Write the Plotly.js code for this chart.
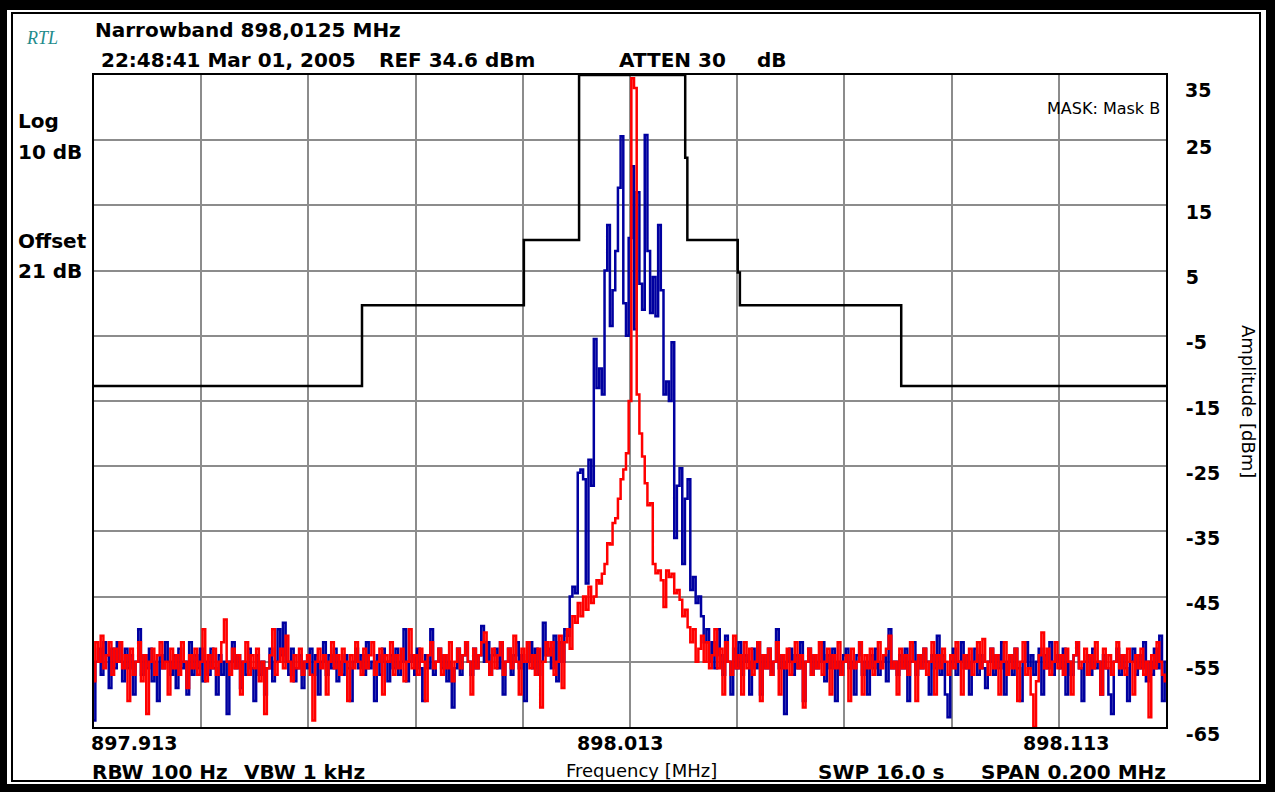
<!DOCTYPE html>
<html>
<head>
<meta charset="utf-8">
<script src="https://cdn.plot.ly/plotly-3.0.1.min.js"></script>
<style>
  html, body { margin: 0; padding: 0; background: #ffffff; }
  #chart { width: 1275px; height: 792px; }
</style>
</head>
<body>
<div id="chart"></div>
<script>
// ---------------- DATA ----------------
const FREQ_START = 897.9125;   // MHz (left edge of span)
const FREQ_STOP = 898.1125;    // MHz (right edge of span)
const FREQ_STEP = 0.0005;      // sweep point spacing, MHz

const xTickLabels = ["897.913", "898.013", "898.113"];
const yTickValues = [25, 15, 5, -5, -15, -25, -35, -45, -55, -65];
const yTopLabel = "35";

// Limit mask (black)
const maskFreq = [897.9125, 897.9625, 897.9625, 897.9927, 897.9927, 898.0030, 898.0030, 898.0228, 898.0228,
                  898.0232, 898.0232, 898.0326, 898.0326, 898.0330, 898.0330, 898.0631, 898.0631, 898.1125];
const maskLevel = [-12.7, -12.7, -0.3, -0.3, 9.7, 9.7, 35, 35, 22.3,
                   22.3, 9.7, 9.7, 4.7, 4.7, -0.3, -0.3, -12.7, -12.7];

// Blue trace (modulated signal), dBm
const blueLeft = [
 -64,-55,-53,-57,-52,-54,-59,-53,-56,-52,
 -55,-58,-53,-56,-54,-60,-55,-50,-57,-54,
 -56,-53,-58,-55,-61,-54,-56,-52,-55,-57,
 -54,-59,-53,-56,-55,-60,-52,-57,-54,-56,
 -53,-58,-55,-57,-53,-56,-60,-54,-57,-55,
 -63,-55,-52,-56,-54,-59,-55,-57,-53,-56,
 -61,-54,-57,-55,-60,-56,-53,-58,-55,-50,
 -54,-49,-55,-57,-53,-58,-56,-54,-59,-55,
 -56,-53,-57,-54,-60,-55,-52,-57,-54,-56,
 -53,-58,-55,-57,-54,-56,-61,-55,-53,-56,
 -54,-57,-52,-56,-55,-61,-54,-57,-53,-55,
 -58,-54,-56,-53,-57,-55,-50,-58,-55,-54,
 -57,-53,-56,-61,-54,-56,-50,-57,-55,-53,
 -56,-54,-58,-55,-62,-56,-53,-57,-54,-52,
 -55,-57,-53,-56,-54,-49.5,-55,-52,-57,-54,
 -53,-56,-52,-60,-55,-53,-57,-54,-52,-56,
 -54,-61,-55,-52,-56,-53,-57,-55,-49,-54
];
const blueCenter = [
 -53,-56,-51,-58,-52,-55,-50,-51,-45,-43.5,
 -44.5,-26,-25.5,-27,-43,-24,-28,-5.5,-13,-10,
 -14,5,12,-3.5,2,8,17.7,25.6,0,-5,
 10,21,-4,17,3,-1,25.8,8,-1.5,4,
 -2,12,2,-14,-12,-15,-6,-36,-28,-25.3,
 -40,-30,-27,-44,-42,-46,-45,-48,-52,-50,
 -55
];
const blueRight = [
 -52,-56,-50,-54,-57,-51,-55,-60,-53,-56,
 -52,-57,-54,-55,-60,-53,-56,-52,-60,-54,
 -56,-53,-57,-55,-50,-56,-54,-63,-55,-53,
 -57,-54,-56,-52,-61,-55,-53,-57,-54,-56,
 -55,-52,-58,-54,-56,-53,-61,-55,-57,-54,
 -53,-56,-55,-60,-54,-52,-57,-55,-60,-54,
 -56,-53,-57,-55,-54,-58,-50,-56,-55,-57,
 -54,-56,-53,-61,-55,-52,-57,-54,-56,-53,
 -55,-60,-54,-56,-51,-57,-54,-60,-63.5,-55,
 -53,-57,-55,-52,-56,-54,-60,-55,-53,-57,
 -54,-56,-59,-55,-53,-57,-54,-56,-52,-60,
 -55,-54,-57,-53,-56,-61,-55,-52,-56,-54,
 -57,-55,-53,-60,-54,-56,-52,-57,-55,-54,
 -56,-53,-60,-55,-57,-54,-52,-56,-61,-55,
 -54,-57,-53,-56,-55,-60,-54,-56,-60,-63,
 -55,-53,-57,-54,-56,-61,-55,-53,-57,-54,
 -56,-52,-58,-55,-57,-53,-56,-51,-61,-55
];

// Red trace (unmodulated carrier), dBm
const redLeft = [
 -58,-52,-55,-51,-56,-54,-52,-57,-53,-55,
 -52,-56,-54,-61,-53,-57,-55,-52,-58,-54,
 -63,-55,-53,-57,-54,-52,-56,-55,-60,-53,
 -56,-54,-57,-52,-55,-59,-54,-56,-53,-57,
 -55,-50,-58,-54,-56,-53,-57,-55,-52,-48.5,
 -55,-57,-53,-56,-54,-60,-55,-52,-57,-54,
 -56,-53,-58,-55,-63,-56,-54,-50,-57,-55,
 -53,-56,-51,-55,-58,-54,-56,-53,-57,-55,
 -54,-57,-64,-55,-53,-56,-54,-60,-55,-52,
 -56,-54,-57,-53,-55,-61,-54,-56,-52,-55,
 -57,-53,-56,-54,-52,-57,-55,-53,-60,-54,
 -55,-52,-57,-54,-56,-53,-58,-55,-50,-56,
 -54,-57,-53,-55,-61,-54,-52,-56,-55,-53,
 -57,-54,-56,-52,-58,-55,-53,-56,-54,-52,
 -55,-60,-53,-56,-54,-52,-50.5,-55,-57,-53,
 -56,-54,-52,-57,-55,-53,-56,-51,-55,-60,
 -53,-55,-52,-56,-54,-57,-53,-62,-55,-52
];
const redCenter = [
 -54,-52,-57,-55,-51,-59,-52,-50,-53,-48,
 -49,-46,-48,-45,-47,-43.5,-46,-45,-42.5,-43,
 -41.5,-40,-36.8,-37,-33.7,-33,-30,-27,-25.5,-23,
 -15,34.5,33,-14,-20,-23.5,-27.6,-31,-30.7,-40,
 -41.4,-41,-42.5,-46.6,-41,-42,-41.5,-44.5,-44,-45.5,
 -48,-47,-49.7,-52,-50,-55
];
const redRight = [
 -53,-51,-55,-52,-56,
 -54,-50,-56,-53,-60,-52,-55,-57,-51,-56,
 -54,-60,-52,-56,-53,-57,-55,-52,-61,-54,
 -56,-53,-57,-55,-52,-60,-54,-56,-53,-57,
 -55,-52,-56,-54,-62,-55,-53,-57,-54,-56,
 -52,-57,-55,-53,-60,-54,-56,-52,-57,-55,
 -54,-61,-53,-56,-55,-52,-60,-54,-56,-53,
 -57,-55,-52,-56,-54,-53,-51,-56,-55,-60,
 -53,-56,-54,-57,-52,-55,-61,-54,-56,-53,
 -57,-55,-52,-60,-54,-56,-53,-55,-57,-54,
 -56,-52,-55,-60,-54,-56,-53,-57,-55,-52,
 -56,-51.5,-55,-57,-53,-56,-54,-60,-55,-52,
 -57,-54,-56,-53,-61,-55,-52,-57,-56,-60,
 -65,-58,-54,-50.5,-56,-53,-57,-55,-52,-56,
 -54,-57,-53,-55,-60,-54,-52,-56,-55,-53,
 -57,-54,-56,-52,-55,-60,-53,-56,-54,-57,
 -55,-52,-56,-54,-57,-53,-55,-60,-54,-56,
 -53,-57,-55,-63.5,-54,-56,-52,-55,-57,-58
];

// ---------------- BUILD ----------------
const blue = blueLeft.concat(blueCenter, blueRight);
const red = redLeft.concat(redCenter, redRight);
if (blue.length !== 401 || red.length !== 401) {
  throw new Error("length mismatch blue=" + blue.length + " red=" + red.length);
}
const freq = blue.map((_, i) => +(FREQ_START + i * FREQ_STEP).toFixed(5));

// page geometry (px) for placing decorations
const W = 1275, H = 792, L = 94, R = 1166, T = 75, B = 727;
const px = x => (x - L) / (R - L);
const py = y => (B - y) / (B - T);

const boldFont = (size, color) => ({ family: "DejaVu Sans", size: size, color: color || "#000000", weight: "bold" });
const regFont = (size) => ({ family: "DejaVu Sans", size: size, color: "#000000" });

function ann(text, x, y, font, opts) {
  return Object.assign({
    text: text, xref: "paper", yref: "paper", x: px(x), y: py(y),
    xanchor: "left", yanchor: "middle", showarrow: false, font: font, borderpad: 0
  }, opts || {});
}

const annotations = [
  ann("RTL", 25, 38, { family: "Liberation Serif", size: 18, color: "#1f8c8c", style: "italic" }),
  ann("Narrowband 898,0125 MHz", 94, 30, boldFont(20)),
  ann("22:48:41 Mar 01, 2005", 100, 60, boldFont(20)),
  ann("REF 34.6 dBm", 378, 60, boldFont(20)),
  ann("ATTEN 30", 618, 60, boldFont(20)),
  ann("dB", 756, 60, boldFont(20)),
  ann("MASK: Mask B", 1161, 108, regFont(16), { xanchor: "right" }),
  ann("Log", 17, 121, boldFont(20)),
  ann("10 dB", 17, 152, boldFont(20)),
  ann("Offset", 17, 241, boldFont(20)),
  ann("21 dB", 17, 271, boldFont(20)),
  ann(yTopLabel, 1184, 90, boldFont(19)),
  ann(xTickLabels[0], 90, 743, boldFont(19)),
  ann(xTickLabels[1], 620, 743, boldFont(19), { xanchor: "center" }),
  ann(xTickLabels[2], 1066, 743, boldFont(19), { xanchor: "center" }),
  ann("RBW 100 Hz", 91, 772, boldFont(20)),
  ann("VBW 1 kHz", 243, 772, boldFont(20)),
  ann("Frequency [MHz]", 641, 770, regFont(18), { xanchor: "center" }),
  ann("SWP 16.0 s", 817, 772, boldFont(20)),
  ann("SPAN 0.200 MHz", 1167, 772, boldFont(20), { xanchor: "right" }),
  ann("Amplitude [dBm]", 1249, 401, regFont(18), { xanchor: "center", textangle: 90 })
];

function band(x0, y0, x1, y1) {
  return { type: "rect", xref: "paper", yref: "paper", x0: px(x0), x1: px(x1), y0: py(y0), y1: py(y1),
           fillcolor: "#000000", line: { width: 0 }, layer: "above" };
}
const shapes = [
  band(0, 0, W, 10), band(0, 784, W, H), band(0, 0, 7, H), band(1266, 0, W, H),
  { type: "rect", xref: "paper", yref: "paper", x0: px(12), x1: px(1260), y0: py(13), y1: py(781),
    line: { color: "#000000", width: 2 }, fillcolor: "rgba(0,0,0,0)", layer: "above" }
];

const traces = [
  { x: maskFreq, y: maskLevel, type: "scatter", mode: "lines",
    line: { color: "#000000", width: 2.5 }, hoverinfo: "skip", showlegend: false },
  { x: freq, y: blue, type: "scatter", mode: "lines",
    line: { color: "#0000a0", width: 2.5, shape: "hvh" }, showlegend: false },
  { x: freq, y: red, type: "scatter", mode: "lines",
    line: { color: "#ff0000", width: 2.5, shape: "hvh" }, showlegend: false }
];

const layout = {
  width: W, height: H,
  margin: { l: L, r: W - R, t: T, b: H - B, pad: 0 },
  paper_bgcolor: "#ffffff", plot_bgcolor: "#ffffff",
  showlegend: false,
  xaxis: {
    range: [FREQ_START, FREQ_STOP], tick0: FREQ_START, dtick: 0.02,
    showgrid: true, gridcolor: "#8c8c8c", gridwidth: 2,
    showticklabels: false, ticks: "", zeroline: false,
    showline: true, mirror: true, linecolor: "#000000", linewidth: 2
  },
  yaxis: {
    range: [-65, 35], side: "right", tickmode: "array", tickvals: yTickValues,
    ticktext: yTickValues.map(String),
    showgrid: true, gridcolor: "#8c8c8c", gridwidth: 2,
    ticks: "", zeroline: false, ticklabelstandoff: 14, ticklabelshift: 7,
    tickfont: boldFont(19),
    showline: true, mirror: true, linecolor: "#000000", linewidth: 2
  },
  annotations: annotations,
  shapes: shapes
};

Plotly.newPlot("chart", traces, layout, { staticPlot: true, displayModeBar: false });
</script>
</body>
</html>
